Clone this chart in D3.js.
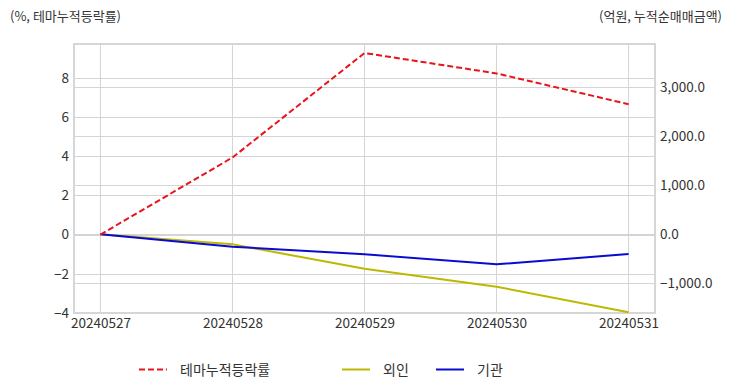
<!DOCTYPE html>
<html><head><meta charset="utf-8">
<script src="https://cdn.jsdelivr.net/npm/d3@7"></script>
<style>
html,body{margin:0;padding:0;background:#fff;}
svg text{font-family:"Noto Sans CJK KR","Noto Sans",sans-serif;}
</style></head>
<body>
<svg id="c" width="732" height="392"></svg>
<script>
const dates = ["20240527","20240528","20240529","20240530","20240531"];
const themeReturn = [0, 3.93, 9.26, 8.22, 6.65];      // %, left axis
const foreign = [0, -205, -702, -1069, -1590];         // 억원, right axis
const institution = [0, -253, -408, -612, -402];       // 억원, right axis
const leftTicks = [-4, -2, 0, 2, 4, 6, 8];
const rightTicks = [-1000, 0, 1000, 2000, 3000];
const leftDomain = [-4, 9.72];
const rightDomain = [-1606, 3884];
const seriesNames = ["테마누적등락률", "외인", "기관"];

const svg = d3.select("#c");
const L = 74, R = 655, T = 44, B = 313;

const x = d3.scalePoint().domain(dates).range([L, R]).padding(0.2);
const yL = d3.scaleLinear().domain(leftDomain).range([B, T]);
const yR = d3.scaleLinear().domain(rightDomain).range([B, T]);

const grid = svg.append("g");
grid.selectAll("line.v").data(dates).enter().append("line")
  .attr("x1", d => x(d)).attr("x2", d => x(d)).attr("y1", T).attr("y2", B)
  .attr("stroke", "#d4d4d4").attr("stroke-width", 1);
grid.selectAll("line.hl").data(leftTicks).enter().append("line")
  .attr("x1", L).attr("x2", R).attr("y1", d => Math.round(yL(d)) + 0.5).attr("y2", d => Math.round(yL(d)) + 0.5)
  .attr("stroke", "#d4d4d4").attr("stroke-width", 1);
grid.selectAll("line.hr").data(rightTicks).enter().append("line")
  .attr("x1", L).attr("x2", R).attr("y1", d => Math.round(yR(d)) + 0.5).attr("y2", d => Math.round(yR(d)) + 0.5)
  .attr("stroke", "#d4d4d4").attr("stroke-width", 1);

svg.append("rect").attr("x", L).attr("y", T).attr("width", R - L).attr("height", B - T)
  .attr("fill", "none").attr("stroke", "#d6d6d6").attr("stroke-width", 2);

const axL = d3.axisLeft(yL).tickValues(leftTicks).tickSize(0).tickPadding(5).tickFormat(d3.format("d"));
const gL = svg.append("g").attr("transform", `translate(${L},0)`).call(axL);
const axR = d3.axisRight(yR).tickValues(rightTicks).tickSize(0).tickPadding(5).tickFormat(d3.format(",.1f"));
const gR = svg.append("g").attr("transform", `translate(${R},0)`).call(axR);
const axB = d3.axisBottom(x).tickSize(0).tickPadding(5);
const gB = svg.append("g").attr("transform", `translate(0,${B})`).call(axB);
[gL, gR, gB].forEach(g => {
  g.select(".domain").remove();
  g.selectAll("text").attr("font-size", 13.5).attr("fill", "#333")
    .style("font-family", '"Noto Sans CJK KR","Noto Sans",sans-serif');
});

svg.append("text").attr("x", 10).attr("y", 21).attr("font-size", 13).attr("fill", "#333")
  .text("(%, 테마누적등락률)");
svg.append("text").attr("x", 722).attr("y", 21).attr("font-size", 13).attr("fill", "#333")
  .attr("text-anchor", "end").text("(억원, 누적순매매금액)");

const lineL = d3.line().x((d, i) => x(dates[i])).y(d => yL(d));
const lineR = d3.line().x((d, i) => x(dates[i])).y(d => yR(d));
const colors = ["#e8141c", "#bdb800", "#0a0ad0"];
svg.append("path").datum(foreign).attr("d", lineR).attr("fill", "none")
  .attr("stroke", colors[1]).attr("stroke-width", 2);
svg.append("path").datum(institution).attr("d", lineR).attr("fill", "none")
  .attr("stroke", colors[2]).attr("stroke-width", 2);
svg.append("path").datum(themeReturn).attr("d", lineL).attr("fill", "none")
  .attr("stroke", colors[0]).attr("stroke-width", 2).attr("stroke-dasharray", "6,3");

const legendItems = [
  {name: seriesNames[0], color: colors[0], dash: "6,3", x: 139},
  {name: seriesNames[1], color: colors[1], dash: null, x: 342},
  {name: seriesNames[2], color: colors[2], dash: null, x: 436}
];
const lg = svg.append("g");
legendItems.forEach(it => {
  lg.append("line").attr("x1", it.x).attr("x2", it.x + 28).attr("y1", 369.5).attr("y2", 369.5)
    .attr("stroke", it.color).attr("stroke-width", 2).attr("stroke-dasharray", it.dash);
  lg.append("text").attr("x", it.x + 41).attr("y", 375).attr("font-size", 14).attr("fill", "#333").text(it.name);
});
</script>
</body></html>
